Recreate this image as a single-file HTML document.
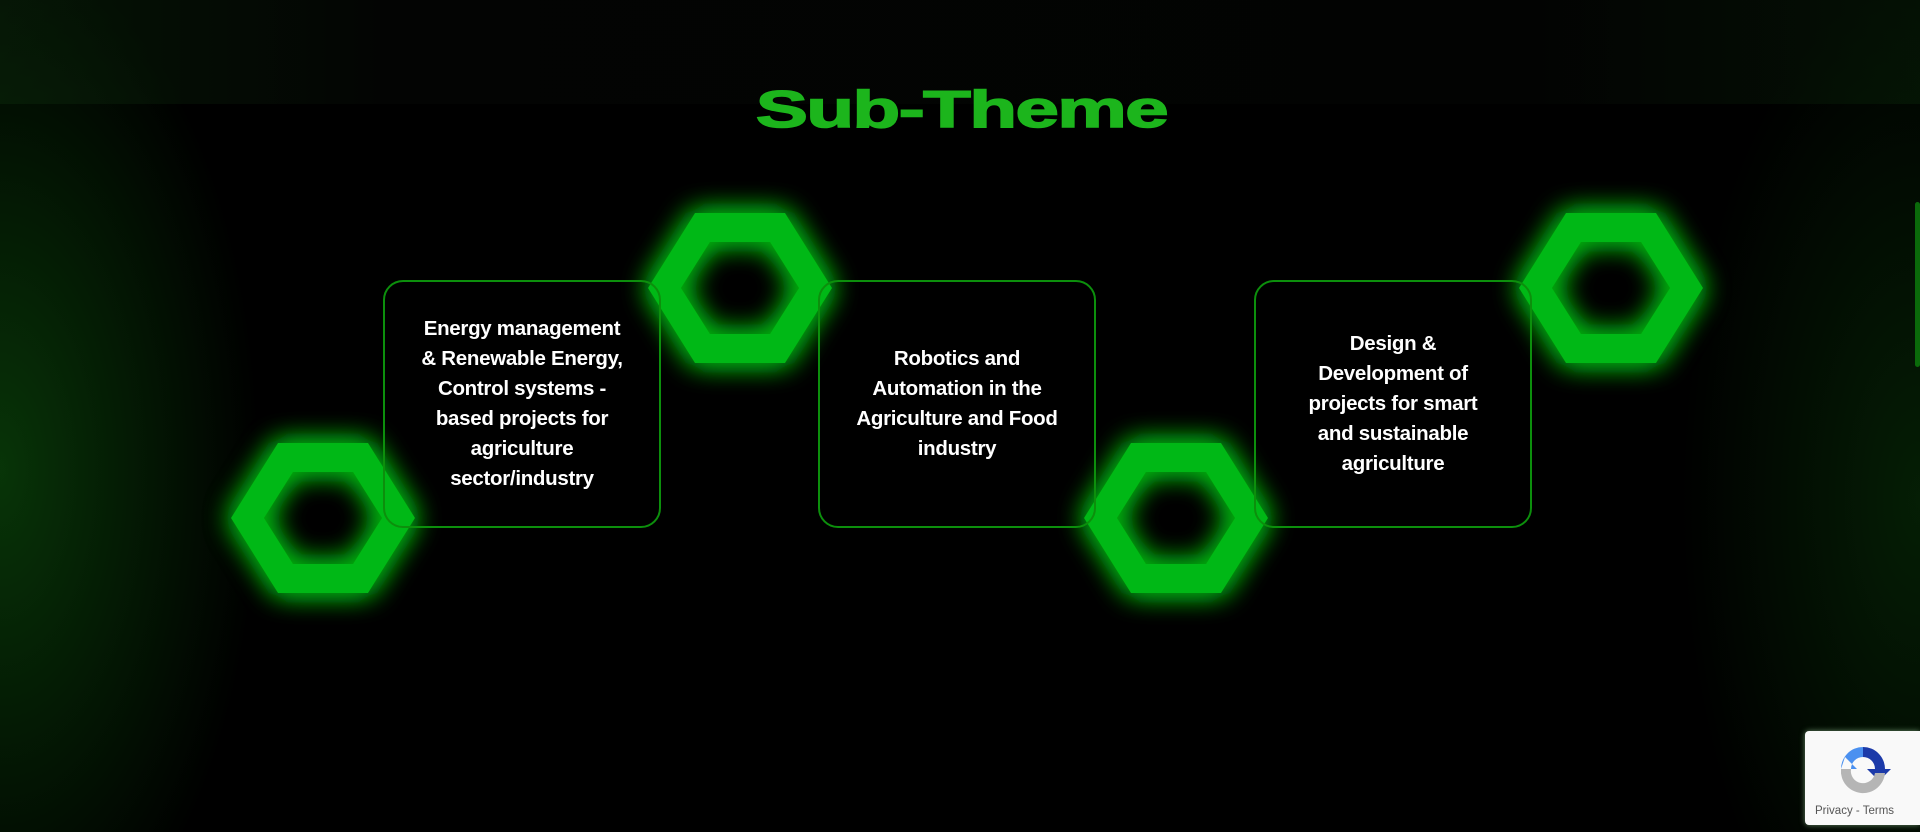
<!DOCTYPE html>
<html><head><meta charset="utf-8"><style>
html,body{margin:0;padding:0;width:1920px;height:832px;overflow:hidden;background:#000}
body{position:relative;font-family:"Liberation Sans",sans-serif;
background:
radial-gradient(ellipse 260px 520px at 0px 470px, rgba(10,70,10,0.75), rgba(0,0,0,0) 100%),
radial-gradient(ellipse 240px 520px at 1920px 500px, rgba(8,50,8,0.6), rgba(0,0,0,0) 100%),
#000;}
.top{position:absolute;left:0;top:0;width:1920px;height:104px;background:linear-gradient(90deg,rgba(10,40,10,0.5),rgba(8,12,8,0.35) 20%,rgba(8,10,8,0.3) 80%,rgba(10,40,10,0.4))}
h1{position:absolute;left:0;width:1920px;top:80px;margin:0;text-align:center;color:#1cb51c;font-weight:900;font-size:52px;letter-spacing:-1px;transform:scaleX(1.5);transform-origin:957px 0;-webkit-text-stroke:1.5px #1cb51c}
.box{position:absolute;top:280px;width:278px;height:248px;border:2px solid #0c8f0c;border-radius:20px;display:flex;align-items:center;justify-content:center;text-align:center;color:#fff;font-weight:bold;font-size:20.5px;line-height:30px;padding:0 14px;box-sizing:border-box;letter-spacing:-0.3px}
.cap{position:absolute;left:1805px;top:731px;width:115px;height:94px;background:#f9f9f9;border-radius:4px 0 0 4px;box-shadow:0 0 6px rgba(200,255,200,0.5)}
.cap span{position:absolute;left:10px;bottom:8px;font-size:11.5px;color:#555}
.bar{position:absolute;left:1915px;top:202px;width:5px;height:165px;background:#0a6a0a;border-radius:3px}
</style></head><body>
<div class="top"></div>
<h1>Sub-Theme</h1>
<svg width="1920" height="832" style="position:absolute;left:0;top:0">
<defs><filter id="g" x="-50%" y="-50%" width="200%" height="200%"><feGaussianBlur stdDeviation="14" result="b"/><feMerge><feMergeNode in="b"/><feMergeNode in="b"/><feMergeNode in="SourceGraphic"/></feMerge></filter>
<path id="h" fill="#00b812" fill-rule="evenodd" d="M-92,0 L-45,-75 L45,-75 L92,0 L45,75 L-45,75 Z M-59,0 L-30,-46 L30,-46 L59,0 L30,46 L-30,46 Z"/></defs>
<g filter="url(#g)">
<use href="#h" x="323" y="518"/>
<use href="#h" x="740" y="288"/>
<use href="#h" x="1176" y="518"/>
<use href="#h" x="1611" y="288"/>
</g>
</svg>
<div class="box" style="left:383px"><div>Energy management<br>&amp; Renewable Energy,<br>Control systems -<br>based projects for<br>agriculture<br>sector/industry</div></div>
<div class="box" style="left:818px"><div>Robotics and<br>Automation in the<br>Agriculture and Food<br>industry</div></div>
<div class="box" style="left:1254px"><div>Design &amp;<br>Development of<br>projects for smart<br>and sustainable<br>agriculture</div></div>
<div class="bar"></div>
<div class="cap">
<svg width="60" height="60" style="position:absolute;left:28px;top:8px" viewBox="0 0 60 60">
<path d="M30 8 A22 22 0 0 1 52 30 L58 30 L46 42 L34 30 L42 30 A12 12 0 0 0 30 18 Z" fill="#1c3aa9"/>
<path d="M8 30 A22 22 0 0 1 30 8 L30 18 A12 12 0 0 0 18 30 L24 30 L12 18 Z" fill="#4a90f0"/>
<path d="M8 30 L18 30 A12 12 0 0 0 42 34 L52 34 A22 22 0 0 1 8 30 Z" fill="#b5b5b5"/>
</svg>
<span>Privacy - Terms</span></div>
</body></html>
